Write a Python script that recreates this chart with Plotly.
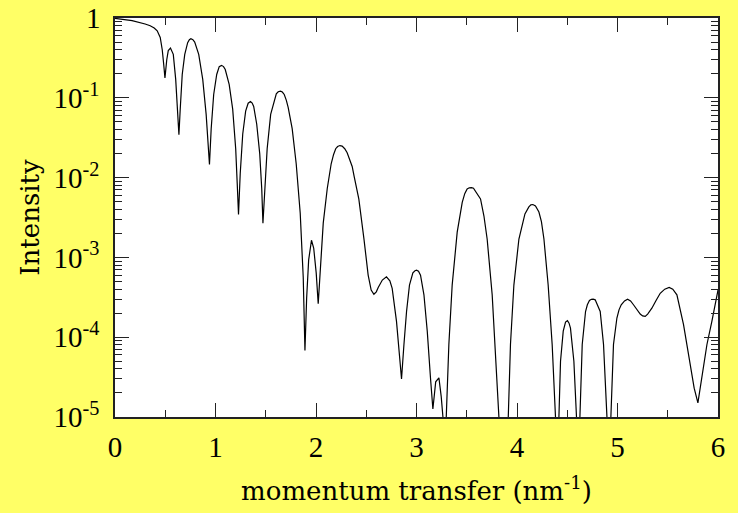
import plotly.graph_objects as go

# momentum transfer (nm^-1)
q = [0.0, 0.10, 0.17, 0.30, 0.35, 0.39, 0.42, 0.45, 0.47, 0.485, 0.497, 0.515, 0.53, 0.552, 0.58, 0.604,
     0.624, 0.636, 0.649, 0.669, 0.694, 0.723, 0.740, 0.755, 0.775, 0.793, 0.833, 0.873, 0.907, 0.927,
     0.940, 0.957, 0.982, 1.012, 1.037, 1.060, 1.080, 1.097, 1.136, 1.171, 1.201, 1.216, 1.229, 1.246,
     1.271, 1.300, 1.325, 1.348, 1.365, 1.380, 1.410, 1.440, 1.460, 1.472, 1.490, 1.514, 1.549, 1.589,
     1.605, 1.624, 1.647, 1.665, 1.684, 1.705, 1.723, 1.763, 1.803, 1.843, 1.873, 1.890, 1.907, 1.927,
     1.942, 1.955, 1.977, 2.002, 2.022, 2.042, 2.072, 2.112, 2.151, 2.175, 2.196, 2.215, 2.238, 2.260,
     2.286, 2.310, 2.335, 2.360, 2.380, 2.426, 2.477, 2.519, 2.549, 2.576, 2.600, 2.619, 2.660, 2.701,
     2.735, 2.758, 2.801, 2.831, 2.851, 2.875, 2.901, 2.930, 2.964, 2.985, 3.000, 3.020, 3.040, 3.074,
     3.107, 3.139, 3.163, 3.191, 3.223, 3.246, 3.263, 3.280, 3.296, 3.322, 3.355, 3.405, 3.455, 3.480,
     3.504, 3.525, 3.547, 3.567, 3.587, 3.615, 3.637, 3.671, 3.703, 3.753, 3.793, 3.820, 3.865, 3.909,
     3.935, 3.969, 4.019, 4.079, 4.100, 4.118, 4.138, 4.158, 4.184, 4.200, 4.218, 4.243, 4.268, 4.310,
     4.350, 4.383, 4.400, 4.417, 4.433, 4.460, 4.483, 4.502, 4.518, 4.532, 4.566, 4.592, 4.610, 4.626,
     4.649, 4.682, 4.700, 4.721, 4.740, 4.758, 4.778, 4.828, 4.861, 4.895, 4.915, 4.934, 4.960, 4.994,
     5.015, 5.037, 5.070, 5.100, 5.130, 5.159, 5.226, 5.250, 5.276, 5.300, 5.342, 5.385, 5.425, 5.470,
     5.514, 5.550, 5.591, 5.657, 5.713, 5.763, 5.800, 5.840, 5.890, 5.939, 6.000]

# scattered intensity
intensity = [0.99, 0.96, 0.925, 0.84, 0.80, 0.75, 0.69, 0.57, 0.40, 0.26, 0.178, 0.30, 0.39, 0.42, 0.35, 0.17,
             0.072, 0.0345, 0.072, 0.196, 0.35, 0.49, 0.535, 0.55, 0.535, 0.50, 0.35, 0.17, 0.062, 0.030,
             0.0146, 0.041, 0.11, 0.196, 0.246, 0.255, 0.246, 0.226, 0.147, 0.072, 0.023, 0.0085, 0.00344, 0.0112,
             0.0352, 0.068, 0.0855, 0.0897, 0.086, 0.078, 0.047, 0.020, 0.0073, 0.00268, 0.0063, 0.023, 0.062, 0.101,
             0.112, 0.119, 0.121, 0.118, 0.110, 0.093, 0.076, 0.041, 0.0149, 0.00357, 5.6e-4, 6.8e-5, 3.1e-4, 9.3e-4,
             1.39e-3, 1.64e-3, 1.31e-3, 6.4e-4, 2.62e-4, 7.4e-4, 2.69e-3, 7.3e-3, 0.0149, 0.0195, 0.023, 0.0245, 0.0252, 0.0248,
             0.023, 0.0205, 0.0172, 0.0138, 0.0103, 5.4e-3, 1.71e-3, 6.0e-4, 3.9e-4, 3.45e-4, 3.7e-4, 4.2e-4, 5.2e-4, 5.7e-4,
             5.1e-4, 4.1e-4, 1.58e-4, 5.5e-5, 2.99e-5, 8.1e-5, 2.1e-4, 4.5e-4, 6.4e-4, 6.8e-4, 6.9e-4, 6.7e-4, 6.0e-4, 3.4e-4,
             1.19e-4, 3.1e-5, 1.26e-5, 2.76e-5, 3.1e-5, 1.8e-5, 1.0e-5, 1.0e-7, 1.0e-5, 8.1e-5, 4.5e-4, 2.07e-3, 4.9e-3, 6.3e-3,
             7.2e-3, 7.45e-3, 7.5e-3, 7.35e-3, 6.8e-3, 6.1e-3, 5.4e-3, 3.3e-3, 1.7e-3, 3.4e-4, 5.0e-5, 1.0e-5, 1.0e-7, 1.0e-5,
             8.1e-5, 4.5e-4, 1.7e-3, 3.5e-3, 3.95e-3, 4.3e-3, 4.55e-3, 4.6e-3, 4.4e-3, 4.1e-3, 3.7e-3, 2.8e-3, 1.7e-3, 4.5e-4,
             8.1e-5, 1.0e-5, 1.0e-7, 1.0e-5, 5.0e-5, 1.19e-4, 1.55e-4, 1.61e-4, 1.5e-4, 1.3e-4, 5.0e-5, 1.0e-5, 1.0e-7, 1.0e-5,
             8.1e-5, 2.1e-4, 2.55e-4, 2.88e-4, 2.98e-4, 3.0e-4, 2.94e-4, 2.1e-4, 8.1e-5, 1.0e-5, 1.0e-7, 1.0e-5, 8.1e-5, 1.74e-4,
             2.2e-4, 2.55e-4, 2.85e-4, 3.0e-4, 2.85e-4, 2.55e-4, 1.95e-4, 1.85e-4, 1.82e-4, 1.95e-4, 2.31e-4, 2.9e-4, 3.55e-4, 4.0e-4,
             4.2e-4, 4.0e-4, 3.4e-4, 1.44e-4, 5.5e-5, 2.3e-5, 1.5e-5, 3.1e-5, 8.1e-5, 1.58e-4, 3.9e-4]

y_tickvals = [1e-5, 1e-4, 1e-3, 1e-2, 1e-1]
y_ticktext = ["10<sup>-5</sup>", "10<sup>-4</sup>", "10<sup>-3</sup>", "10<sup>-2</sup>", "10<sup>-1</sup>"]
y_top_value = 1
y_top_label = "1"
x_tickvals = [0, 1, 2, 3, 4, 5, 6]

BG = "#ffff66"
AX = "#222222"
TICKFONT = dict(family="Liberation Serif", size=29, color="black")
TITLEFONT = dict(family="DejaVu Serif", size=26, color="black")

fig = go.Figure()
fig.add_trace(go.Scatter(x=q, y=intensity, mode="lines",
                         line=dict(color="black", width=1.2), showlegend=False,
                         hoverinfo="skip"))

fig.update_layout(
    width=738, height=513,
    paper_bgcolor=BG, plot_bgcolor="white",
    margin=dict(l=115, r=20, t=18, b=92),
)

fig.update_xaxes(
    range=[0, 6], tickvals=x_tickvals, ticktext=[str(v) for v in x_tickvals],
    showgrid=False, zeroline=False,
    showline=True, linecolor=AX, linewidth=1.5, mirror="ticks",
    ticks="inside", ticklen=14, tickwidth=1.2, tickcolor=AX,
    minor=dict(dtick=0.5, ticks="inside", ticklen=7, tickwidth=1.2, tickcolor=AX, showgrid=False),
    tickfont=TICKFONT, ticklabelstandoff=3,
    title=dict(text="momentum transfer (nm<sup>-1</sup>)", font=TITLEFONT, standoff=20),
)

fig.update_yaxes(
    type="log", range=[-5, 0], tickvals=y_tickvals + [y_top_value], ticktext=y_ticktext + [""],
    showgrid=False, zeroline=False,
    showline=True, linecolor=AX, linewidth=1.5, mirror="ticks",
    ticks="inside", ticklen=14, tickwidth=1.2, tickcolor=AX,
    minor=dict(dtick="D1", ticks="inside", ticklen=7, tickwidth=1.2, tickcolor=AX, showgrid=False),
    tickfont=TICKFONT, ticklabelstandoff=8,
    title=dict(text="Intensity", font=TITLEFONT, standoff=6),
)

# top tick label "1" (centred on its tick, as in the reference)
fig.add_annotation(x=0, xref="paper", xanchor="right", xshift=-12,
                   y=0, yref="y", yanchor="middle", yshift=0,
                   text=y_top_label, showarrow=False, font=TICKFONT)

fig.write_html("out.html")
